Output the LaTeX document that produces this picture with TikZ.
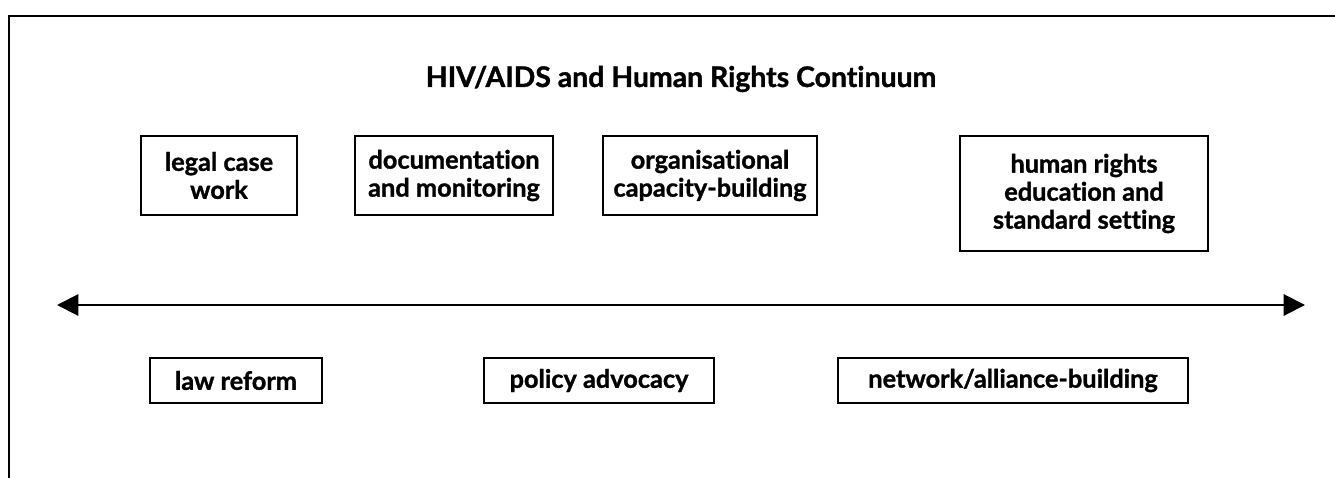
\documentclass[tikz,border=0pt]{standalone}
\usepackage{fontspec}
\setmainfont{Lato}[Ligatures=NoCommon,BoldFeatures={FakeBold=1.2}]
\usetikzlibrary{arrows.meta}

\tikzstyle{box}=[rectangle,draw,line width=1.5pt,align=center,inner sep=0pt]
\tikzstyle{wide}=[box,minimum height=33.75pt]

\begin{document}
\begin{tikzpicture}[x=0.75pt,y=-0.75pt,font=\bfseries\fontsize{19}{21}\selectfont]
  \useasboundingbox (0,0) rectangle (1335,478);
  \draw[line width=1.5pt] (1335,16) -- (9,16) -- (9,478);

  \node[font=\bfseries\fontsize{21.3}{23}\selectfont] (title) at (681,79) {HIV/AIDS and Human Rights Continuum};

  \node[box,minimum width=117pt,minimum height=59.25pt] (legal) at (219,175.5) {legal case\\work};
  \node[box,minimum width=148.5pt,minimum height=59.25pt] (docu) at (454,175.5) {documentation\\and monitoring};
  \node[box,minimum width=160.5pt,minimum height=59.25pt] (orgcap) at (710,175.5) {organisational\\capacity-building};
  \node[box,minimum width=186pt,minimum height=86.25pt] (hredu) at (1084,193.5) {human rights\\education and\\standard setting};

  \coordinate (arrL) at (57,305);
  \coordinate (arrR) at (1305,305);
  \draw[line width=1.5pt,{Triangle[length=16pt,width=16pt]}-{Triangle[length=16pt,width=16pt]}] (arrL) -- (arrR);

  \node[wide,minimum width=129pt] (lawref) at (236,380.5) {law reform};
  \node[wide,minimum width=172.5pt] (policy) at (599,380.5) {policy advocacy};
  \node[wide,minimum width=262.5pt] (network) at (1013,380.5) {network/alliance-building};
\end{tikzpicture}
\end{document}
